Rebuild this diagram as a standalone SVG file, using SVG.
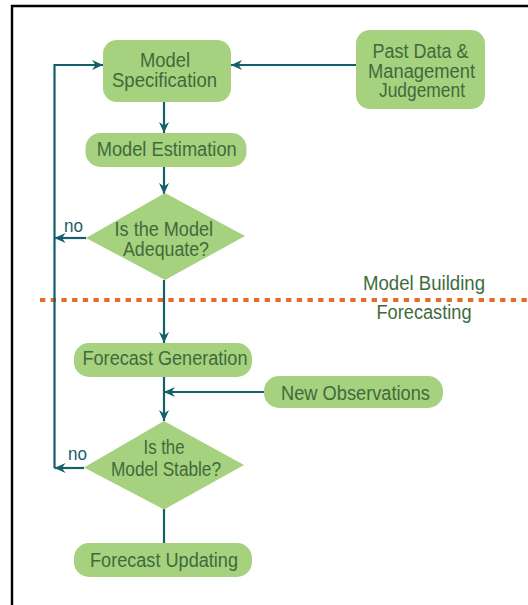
<svg xmlns="http://www.w3.org/2000/svg" width="528" height="605" viewBox="0 0 528 605">
<style>
.node{fill:#a6d17f}
.t{font-family:"Liberation Sans Narrow","Liberation Sans",Arial,sans-serif;font-size:20px;fill:#3e6b3b;text-anchor:middle}
.no{font-family:"Liberation Sans Narrow","Liberation Sans",Arial,sans-serif;font-size:19px;fill:#1b5e6b;text-anchor:middle}
.c{fill:none;stroke:#135f6c;stroke-width:2.2}
.arr{marker-end:url(#ah)}
</style>
<defs>
<marker id="ah" markerUnits="userSpaceOnUse" markerWidth="12" markerHeight="12" viewBox="0 0 12 12" refX="11" refY="6" orient="auto">
<path d="M0,1 L11,6 L0,11 L3.5,6 Z" fill="#135f6c"/>
</marker>
</defs>
<rect width="528" height="605" fill="#fff"/>
<path d="M12,605 V6 H528" fill="none" stroke="#000" stroke-width="2.4"/>
<line x1="40" y1="300" x2="528" y2="300" stroke="#e86a28" stroke-width="4" stroke-dasharray="5.3 5.4"/>
<g id="connectors">
<path class="c arr" d="M54.5,468 V65 H103"/>
<path class="c arr" d="M356,65 H231"/>
<path class="c arr" d="M164,102 V133"/>
<path class="c arr" d="M164,167 V194"/>
<path class="c arr" d="M86,238 H54.5"/>
<path class="c arr" d="M164,280 V343"/>
<path class="c arr" d="M264,392 H164"/>
<path class="c arr" d="M164,377 V421"/>
<path class="c arr" d="M84,468 H54.5"/>
<path class="c" d="M164,509 V543"/>
</g>
<g id="model-specification">
<rect class="node" x="103" y="40" width="128" height="62" rx="14"/>
<text class="t" x="165" y="67.3" textLength="50" lengthAdjust="spacingAndGlyphs">Model</text>
<text class="t" x="164.5" y="87" textLength="105" lengthAdjust="spacingAndGlyphs">Specification</text>
</g>
<g id="past-data">
<rect class="node" x="356" y="30" width="129" height="79" rx="14"/>
<text class="t" x="420.5" y="58" textLength="96" lengthAdjust="spacingAndGlyphs">Past Data &amp;</text>
<text class="t" x="421.5" y="78" textLength="107" lengthAdjust="spacingAndGlyphs">Management</text>
<text class="t" x="422" y="97" textLength="86" lengthAdjust="spacingAndGlyphs">Judgement</text>
</g>
<g id="model-estimation">
<rect class="node" x="85.5" y="133" width="161" height="34" rx="15"/>
<text class="t" x="166.7" y="156" textLength="140" lengthAdjust="spacingAndGlyphs">Model Estimation</text>
</g>
<g id="adequate">
<polygon class="node" points="165,193 245,236 165,280 86,238"/>
<text class="t" x="163.8" y="235.5" textLength="98.5" lengthAdjust="spacingAndGlyphs">Is the Model</text>
<text class="t" x="166" y="256" textLength="86" lengthAdjust="spacingAndGlyphs">Adequate?</text>
<text class="no" x="73.5" y="232" textLength="19" lengthAdjust="spacingAndGlyphs">no</text>
</g>
<g id="phase-labels">
<text class="t" x="424" y="290" textLength="122" lengthAdjust="spacingAndGlyphs">Model Building</text>
<text class="t" x="424" y="319" textLength="95" lengthAdjust="spacingAndGlyphs">Forecasting</text>
</g>
<g id="forecast-generation">
<rect class="node" x="74" y="343" width="178" height="34" rx="15"/>
<text class="t" x="165" y="365" textLength="165" lengthAdjust="spacingAndGlyphs">Forecast Generation</text>
</g>
<g id="new-observations">
<rect class="node" x="264" y="376" width="179" height="32" rx="15"/>
<text class="t" x="355.5" y="400.4" textLength="149" lengthAdjust="spacingAndGlyphs">New Observations</text>
</g>
<g id="stable">
<polygon class="node" points="164,421 244,465 164,509.5 84,467.5"/>
<text class="t" x="164" y="453.5" textLength="41" lengthAdjust="spacingAndGlyphs">Is the</text>
<text class="t" x="166" y="475.5" textLength="110" lengthAdjust="spacingAndGlyphs">Model Stable?</text>
<text class="no" x="77.5" y="460" textLength="19" lengthAdjust="spacingAndGlyphs">no</text>
</g>
<g id="forecast-updating">
<rect class="node" x="74" y="543" width="178" height="34" rx="15"/>
<text class="t" x="164" y="567" textLength="148" lengthAdjust="spacingAndGlyphs">Forecast Updating</text>
</g>
</svg>
